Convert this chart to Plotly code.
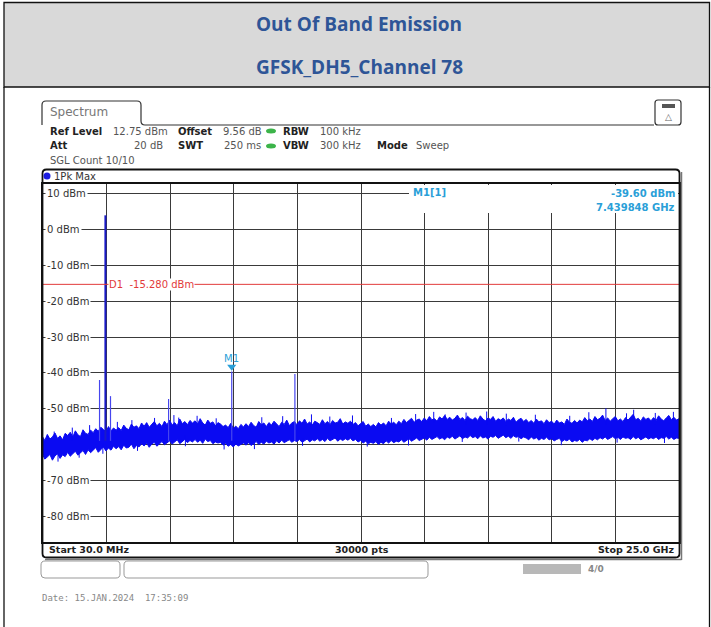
import plotly.graph_objects as go

W, H = 711, 627
PL, PR, PT, PB = 43, 32, 184, 85

# ---------------- data ----------------
start_ghz = 0.03
stop_ghz = 25.0
ref_level_dbm = 12.75
bottom_level_dbm = -87.25
x_div_ghz = 2.497

# noise floor band, sampled every 0.1 GHz (upper and lower edge of the trace band)
noise_freq_ghz = [start_ghz] + [round(0.1 * i, 1) for i in range(1, 251)]
noise_upper_dbm = [
    -58.0, -58.9, -57.2, -58.5, -57.9, -56.8, -58.3, -57.6, -58.7, -56.9,
    -57.5, -56.6, -57.9, -56.2, -57.3, -57.8, -55.9, -56.9, -57.2, -56.0,
    -56.7, -55.6, -56.3, -55.2, -55.8, -56.5, -55.0, -56.2, -55.4, -56.0,
    -55.3, -56.1, -54.6, -55.5, -55.9, -54.3, -55.2, -54.8, -55.6, -54.0,
    -54.9, -53.9, -55.2, -54.4, -53.6, -54.8, -54.1, -55.0, -53.5, -54.5,
    -53.2, -54.6, -53.9, -54.8, -52.9, -54.2, -53.6, -54.5, -53.3, -54.0,
    -53.4, -54.3, -52.8, -54.0, -54.6, -53.2, -54.1, -53.7, -54.8, -53.9,
    -54.3, -55.0, -54.6, -55.3, -54.1, -55.5, -54.9, -55.6, -54.4, -55.1,
    -54.2, -55.0, -53.8, -54.7, -55.2, -53.6, -54.5, -54.0, -55.0, -53.9,
    -54.6, -53.5, -54.3, -55.0, -53.8, -54.4, -53.2, -54.7, -54.0, -53.6,
    -54.5, -53.4, -54.1, -52.9, -54.3, -53.7, -54.6, -53.5, -53.9, -54.4,
    -53.1, -54.2, -53.6, -54.5, -53.3, -54.0, -53.8, -52.8, -54.3, -53.7,
    -54.1, -53.5, -54.4, -53.9, -54.8, -54.2, -53.6, -54.9, -54.3, -55.0,
    -54.4, -55.1, -53.9, -54.6, -54.0, -54.8, -53.5, -54.3, -53.8, -54.5,
    -53.5, -54.2, -53.0, -53.9, -53.4, -52.7, -53.8, -53.2, -52.9, -53.6,
    -52.6, -53.4, -52.2, -53.1, -52.8, -53.5, -52.3, -52.9, -51.9, -53.0,
    -52.4, -53.2, -52.7, -51.8, -53.0, -52.5, -53.3, -52.1, -52.8, -53.1,
    -52.5, -53.3, -52.0, -52.9, -53.4, -52.6, -53.0, -52.2, -53.5, -52.8,
    -53.2, -52.6, -53.6, -52.9, -53.3, -52.4, -53.8, -53.1, -52.7, -53.6,
    -53.0, -53.9, -53.3, -54.1, -52.9, -53.7, -53.4, -54.2, -53.1, -53.9,
    -53.5, -54.3, -53.2, -54.0, -53.7, -54.4, -52.9, -53.8, -54.1, -53.3,
    -54.0, -53.2, -53.7, -52.5, -53.4, -52.9, -53.6, -52.2, -53.1, -52.7,
    -51.8, -53.3, -52.6, -53.5, -52.8, -52.2, -53.4, -52.9, -53.6, -52.5,
    -53.2, -52.4, -51.6, -53.1, -52.7, -53.5, -52.3, -53.0, -52.6, -53.4,
    -52.5, -53.3, -52.0, -52.9, -53.4, -52.6, -51.9, -53.1, -52.4, -53.2,
    -52.8,
]
noise_lower_dbm = [
    -63.0, -64.1, -63.5, -62.8, -64.4, -63.2, -62.6, -63.9, -62.9, -63.4,
    -62.2, -63.3, -62.6, -61.9, -63.0, -62.4, -61.7, -62.8, -61.5, -62.3,
    -61.7, -60.9, -62.2, -61.3, -60.7, -61.8, -61.0, -61.6, -60.5, -61.2,
    -60.6, -61.5, -60.2, -61.0, -60.8, -59.9, -61.2, -60.3, -60.7, -59.8,
    -60.4, -59.6, -60.8, -59.9, -59.4, -60.5, -59.7, -59.2, -60.1, -59.5,
    -59.0, -59.9, -59.3, -58.7, -59.8, -59.1, -58.6, -59.5, -58.9, -59.3,
    -58.6, -59.4, -58.8, -59.7, -58.5, -59.2, -58.9, -59.8, -59.3, -59.6,
    -59.4, -60.2, -59.7, -60.5, -60.0, -60.7, -59.9, -60.4, -60.1, -59.6,
    -60.2, -59.5, -60.3, -59.8, -59.2, -60.0, -59.4, -59.9, -59.1, -59.6,
    -59.3, -59.9, -59.0, -59.6, -58.8, -59.5, -59.1, -58.7, -59.4, -58.9,
    -59.2, -58.6, -59.4, -58.9, -58.5, -59.3, -58.7, -59.0, -58.4, -59.1,
    -58.6, -59.2, -58.3, -59.0, -58.7, -58.2, -59.1, -58.5, -58.9, -58.4,
    -58.8, -58.3, -59.0, -58.6, -59.3, -58.9, -59.6, -59.1, -59.8, -59.4,
    -59.7, -59.2, -60.0, -59.4, -59.8, -59.0, -59.6, -58.9, -59.5, -59.1,
    -59.3, -58.7, -59.4, -58.9, -58.4, -59.1, -58.6, -58.2, -58.9, -58.5,
    -58.2, -58.8, -58.0, -58.6, -58.3, -57.8, -58.5, -58.1, -58.7, -57.9,
    -58.3, -57.7, -58.5, -58.0, -57.6, -58.4, -57.9, -58.2, -57.5, -58.1,
    -57.8, -58.4, -57.6, -58.2, -57.9, -58.5, -57.7, -58.0, -57.5, -58.3,
    -57.9, -57.4, -58.1, -57.7, -58.3, -57.6, -58.0, -57.8, -58.4, -57.9,
    -58.2, -58.7, -57.9, -58.5, -58.1, -58.8, -58.3, -58.6, -58.0, -58.7,
    -58.4, -59.0, -58.6, -58.3, -59.2, -58.7, -59.0, -58.5, -59.3, -58.9,
    -59.1, -58.6, -59.4, -58.8, -59.0, -58.4, -58.9, -58.3, -58.7, -58.1,
    -58.5, -57.9, -58.6, -58.2, -57.8, -58.4, -58.0, -58.6, -57.9, -58.3,
    -58.1, -58.6, -57.8, -58.4, -58.0, -58.7, -58.2, -57.9, -58.5, -58.1,
    -58.4, -57.9, -58.6, -58.1, -58.3, -57.8, -58.5, -58.0, -58.6, -58.2,
    -58.3,
]

# narrow noise peaks poking out of the band
peak_up_freq_ghz = [0.47, 1.18, 1.86, 2.95, 3.52, 4.41, 5.17, 5.36, 6.08, 6.83, 8.62, 9.44,
                    10.57, 11.29, 12.18, 13.71, 14.66, 15.37, 15.82, 16.64, 17.45, 18.22,
                    19.36, 20.71, 21.46, 22.13, 22.94, 23.22, 24.07, 24.78]
peak_up_dbm = [-56.4, -55.3, -54.6, -53.7, -53.2, -52.6, -51.8, -52.5, -52.0, -52.7, -52.4,
               -52.1, -51.6, -52.2, -51.9, -52.6, -51.5, -50.9, -51.6, -51.1, -50.8, -51.4,
               -51.7, -52.0, -51.0, -49.9, -51.3, -50.3, -51.2, -50.9]
peak_down_freq_ghz = [0.62, 1.45, 2.38, 3.74, 5.62, 7.14, 8.33, 10.22, 12.76, 14.38, 16.49,
                      18.71, 20.38, 22.57, 24.43]
peak_down_dbm = [-64.8, -63.7, -62.6, -61.8, -60.5, -61.4, -61.3, -60.4, -60.6, -60.3, -59.3,
                 -59.2, -60.2, -59.5, -59.6]

fund_freq_ghz = 2.48
fund_peak_dbm = 4.0
spur_freq_ghz = [2.25, 2.68, 4.96, 7.44, 9.92]
spur_peak_dbm = [-42.0, -46.5, -47.3, -39.6, -40.3]
spur_base_dbm = -59.0

display_line_dbm = -15.28
marker_freq_ghz = 7.439848
marker_level_dbm = -39.60
y_label_levels = [10, 0, -10, -20, -30, -40, -50, -70, -80]

# ---------------- helpers (pixel -> paper) ----------------
pw = W - PL - PR
ph = H - PT - PB


def px(x):
    return (x - PL) / pw


def py(y):
    return 1 - (y - PT) / ph


def path(points, close=False):
    s = ""
    for i, p in enumerate(points):
        if p[0] == "Q":
            s += " Q %.5f,%.5f %.5f,%.5f" % (px(p[1]), py(p[2]), px(p[3]), py(p[4]))
        else:
            s += (" M" if i == 0 else " L") + " %.5f,%.5f" % (px(p[0]), py(p[1]))
    return s + (" Z" if close else "")


def rrect(x0, y0, x1, y1, r):
    return path([(x0, y0 + r), ("Q", x0, y0, x0 + r, y0), (x1 - r, y0), ("Q", x1, y0, x1, y0 + r),
                 (x1, y1 - r), ("Q", x1, y1, x1 - r, y1), (x0 + r, y1), ("Q", x0, y1, x0, y1 - r)], close=True)


def nearest(freq, values):
    i = min(range(len(noise_freq_ghz)), key=lambda k: abs(noise_freq_ghz[k] - freq))
    return values[i]


fig = go.Figure()

BLUE = "#0a0af2"
CYAN = "#2a9fd8"
RED = "#e23a3a"

fig.add_trace(go.Scatter(x=noise_freq_ghz, y=noise_lower_dbm, mode="lines",
                         line=dict(color=BLUE, width=1), hoverinfo="skip"))
fig.add_trace(go.Scatter(x=noise_freq_ghz, y=noise_upper_dbm, mode="lines", fill="tonexty",
                         fillcolor=BLUE, line=dict(color=BLUE, width=1), hoverinfo="skip"))

nx, ny = [], []
for f, v in zip(peak_up_freq_ghz, peak_up_dbm):
    nx += [f, f, None]
    ny += [nearest(f, noise_upper_dbm) - 1.0, v, None]
for f, v in zip(peak_down_freq_ghz, peak_down_dbm):
    nx += [f, f, None]
    ny += [nearest(f, noise_lower_dbm) + 1.0, v, None]
fig.add_trace(go.Scatter(x=nx, y=ny, mode="lines", line=dict(color=BLUE, width=1), hoverinfo="skip"))

sx, sy = [], []
for f, p in zip(spur_freq_ghz, spur_peak_dbm):
    sx += [f, f, None]
    sy += [spur_base_dbm, p, None]
fig.add_trace(go.Scatter(x=sx, y=sy, mode="lines", line=dict(color="#4646ee", width=1.2), hoverinfo="skip"))
fig.add_trace(go.Scatter(x=[fund_freq_ghz, fund_freq_ghz], y=[spur_base_dbm, fund_peak_dbm], mode="lines",
                         line=dict(color="#1a1ac8", width=2), hoverinfo="skip"))

# display line D1
fig.add_trace(go.Scatter(x=[start_ghz, stop_ghz], y=[display_line_dbm, display_line_dbm], mode="lines",
                         line=dict(color=RED, width=1), hoverinfo="skip"))
# marker M1
fig.add_trace(go.Scatter(x=[marker_freq_ghz], y=[marker_level_dbm + 1.3], mode="markers",
                         marker=dict(symbol="triangle-down", size=8, color=CYAN), hoverinfo="skip"))

fig.update_xaxes(range=[start_ghz, stop_ghz], tick0=start_ghz, dtick=x_div_ghz, showgrid=True,
                 gridcolor="#3a3a3a", gridwidth=1, showticklabels=False, ticks="", zeroline=False,
                 showline=True, linecolor="#111", linewidth=1.5, mirror=True)
fig.update_yaxes(range=[bottom_level_dbm, ref_level_dbm], tick0=10, dtick=10, showgrid=True,
                 gridcolor="#3a3a3a", gridwidth=1, showticklabels=False, ticks="", zeroline=False,
                 showline=True, linecolor="#111", linewidth=1.5, mirror=True)

shapes = []
anns = []

# table header
shapes.append(dict(type="rect", xref="paper", yref="paper", x0=px(4), x1=px(709.5), y0=py(87), y1=py(2.5),
                   fillcolor="#d9d9d9", line=dict(color="#111", width=1.3), layer="below"))
shapes.append(dict(type="line", xref="paper", yref="paper", x0=px(4), x1=px(4), y0=py(87), y1=py(627),
                   line=dict(color="#111", width=1.3)))
shapes.append(dict(type="line", xref="paper", yref="paper", x0=px(709.5), x1=px(709.5), y0=py(87), y1=py(627),
                   line=dict(color="#111", width=1.3)))
TITLE_FONT = dict(family="Open Sans", size=19, color="#2e5597")
anns.append(dict(text="<b>Out Of Band Emission</b>", x=px(359), y=py(24), font=TITLE_FONT))
anns.append(dict(text="<b>GFSK_DH5_Channel 78</b>", x=px(359), y=py(67), font=TITLE_FONT))

# Spectrum tab and header line
shapes.append(dict(type="path", xref="paper", yref="paper",
                   path=path([(42, 125), (42, 105), ("Q", 42, 101, 46, 101), (137, 101), ("Q", 141, 101, 141, 105),
                              (141, 121), ("Q", 141, 125, 145, 125), (654, 125)]),
                   line=dict(color="#333", width=1.2)))
anns.append(dict(text="Spectrum", x=px(48), y=py(112), xanchor="left",
                 font=dict(family="DejaVu Sans", size=12, color="#777")))
# icon
shapes.append(dict(type="path", xref="paper", yref="paper", path=rrect(655, 100, 681, 125, 3),
                   line=dict(color="#333", width=1.2), fillcolor="white"))
shapes.append(dict(type="rect", xref="paper", yref="paper", x0=px(662), x1=px(675), y0=py(108), y1=py(104),
                   fillcolor="#555", line=dict(width=0)))
anns.append(dict(text="△", x=px(668.5), y=py(117), font=dict(family="DejaVu Sans", size=9, color="#666")))

# info rows
HB = dict(family="DejaVu Sans", size=10, color="#222")
HV = dict(family="DejaVu Sans", size=10, color="#555")


def t(text, x, y, font, anchor="left"):
    anns.append(dict(text=text, x=px(x), y=py(y), xanchor=anchor, font=font))


t("<b>Ref Level</b>", 48, 131, HB)
t("12.75 dBm", 111, 131, HV)
t("<b>Offset</b>", 176, 131, HB)
t("9.56 dB", 221, 131, HV)
t("<b>RBW</b>", 281, 131, HB)
t("100 kHz", 318, 131, HV)
t("<b>Att</b>", 48, 146, HB)
t("20 dB", 165, 146, HV, "right")
t("<b>SWT</b>", 176, 146, HB)
t("250 ms", 263, 146, HV, "right")
t("<b>VBW</b>", 281, 146, HB)
t("300 kHz", 318, 146, HV)
t("<b>Mode</b>", 375, 146, HB)
t("Sweep", 414, 146, HV)
t("SGL Count 10/10", 48, 160, HV)
for yy in (131, 146):
    shapes.append(dict(type="circle", xref="paper", yref="paper", x0=px(266), x1=px(276), y0=py(yy + 2.5),
                       y1=py(yy - 2.5), fillcolor="#3cb44a", line=dict(width=0)))

# frame around trace area
shapes.append(dict(type="path", xref="paper", yref="paper", path=rrect(42.5, 169.5, 679.5, 557.5, 4),
                   line=dict(color="#111", width=1.8)))
shapes.append(dict(type="line", xref="paper", yref="paper", x0=px(681.5), x1=px(681.5), y0=py(560), y1=py(172),
                   line=dict(color="#777", width=1.5)))
shapes.append(dict(type="line", xref="paper", yref="paper", x0=px(45), x1=px(681.5), y0=py(559.5), y1=py(559.5),
                   line=dict(color="#777", width=1.5)))
shapes.append(dict(type="circle", xref="paper", yref="paper", x0=px(43.5), x1=px(50.5), y0=py(179.5),
                   y1=py(172.5), fillcolor="#1c1ce0", line=dict(width=0)))
t("1Pk Max", 52, 176, dict(family="DejaVu Sans", size=10, color="#333"))

# bottom row
BF = dict(family="DejaVu Sans", size=9.5, color="#222")
t("<b>Start 30.0 MHz</b>", 47, 549, BF)
t("<b>30000 pts</b>", 362, 549, BF, "center")
t("<b>Stop 25.0 GHz</b>", 677, 549, BF, "right")

# marker info box (covers grid)
shapes.append(dict(type="rect", xref="paper", yref="paper", x0=px(409), x1=px(678), y0=py(213), y1=py(185),
                   fillcolor="white", line=dict(width=0), layer="above"))
MF = dict(family="DejaVu Sans", size=10, color=CYAN)
anns.append(dict(text="<b>M1[1]</b>", x=px(411), y=py(192), xanchor="left", font=MF, bgcolor="white"))
t("<b>-39.60 dBm</b>", 677, 193, MF, "right")
t("<b>7.439848 GHz</b>", 677, 207, MF, "right")
t("M1", 231, 358, dict(family="DejaVu Sans", size=10, color=CYAN), "center")

# y labels
YF = dict(family="DejaVu Sans", size=10, color="#333")
for lv in y_label_levels:
    anns.append(dict(text="%d dBm" % lv, x=px(45), xref="paper", y=lv, yref="y", xanchor="left",
                     yanchor="middle", font=YF, bgcolor="white", borderpad=1))

# D1 label
anns.append(dict(text="D1  -15.280 dBm", x=px(107.5), y=display_line_dbm, yref="y", xanchor="left",
                 yanchor="middle", font=dict(family="DejaVu Sans", size=10, color=RED), bgcolor="white",
                 borderpad=0))

# status bar
shapes.append(dict(type="path", xref="paper", yref="paper", path=rrect(41, 561, 120, 578, 4),
                   line=dict(color="#999", width=1)))
shapes.append(dict(type="path", xref="paper", yref="paper", path=rrect(124, 561, 428, 578, 4),
                   line=dict(color="#999", width=1)))
shapes.append(dict(type="rect", xref="paper", yref="paper", x0=px(523), x1=px(581), y0=py(574), y1=py(564),
                   fillcolor="#b8b8b8", line=dict(width=0)))
t("<b>4/0</b>", 586, 569, dict(family="DejaVu Sans", size=9, color="#888"))

# date
t("Date: 15.JAN.2024  17:35:09", 40, 598, dict(family="DejaVu Sans Mono", size=9, color="#888"))

for a in anns:
    a.setdefault("xref", "paper")
    a.setdefault("yref", "paper")
    a.setdefault("showarrow", False)
    a.setdefault("xanchor", "center")
    a.setdefault("yanchor", "middle")

fig.update_layout(width=W, height=H, margin=dict(l=PL, r=PR, t=PT, b=PB), paper_bgcolor="white",
                  plot_bgcolor="white", showlegend=False, shapes=shapes, annotations=anns)

fig.write_html("out.html", config={"displayModeBar": False},
               post_script="document.body.style.margin='0px';")
